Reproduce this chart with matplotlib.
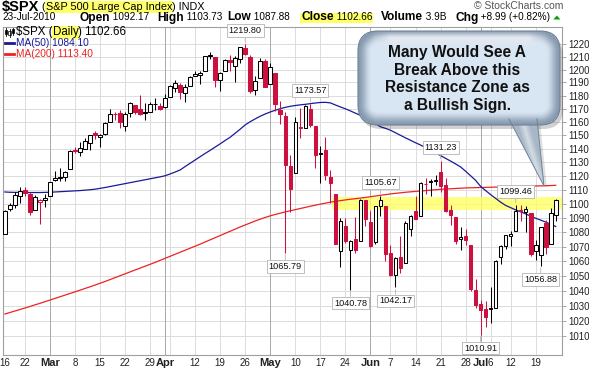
"""$SPX daily candles with MA(50)/MA(200) and a resistance-zone callout
"""
import numpy as np
import matplotlib.pyplot as plt
from matplotlib.patches import FancyBboxPatch, Polygon, Rectangle
from matplotlib.ticker import FixedLocator, FixedFormatter, NullLocator

plt.rcParams['font.family'] = ['Liberation Sans', 'DejaVu Sans']

# trading days (2010)
feb = [16, 17, 18, 19, 22, 23, 24, 25, 26]
mar = [1, 2, 3, 4, 5, 8, 9, 10, 11, 12, 15, 16, 17, 18, 19, 22, 23, 24, 25, 26, 29, 30, 31]
apr = [1, 5, 6, 7, 8, 9, 12, 13, 14, 15, 16, 19, 20, 21, 22, 23, 26, 27, 28, 29, 30]
may = [3, 4, 5, 6, 7, 10, 11, 12, 13, 14, 17, 18, 19, 20, 21, 24, 25, 26, 27, 28]
jun = [1, 2, 3, 4, 7, 8, 9, 10, 11, 14, 15, 16, 17, 18, 21, 22, 23, 24, 25, 28, 29, 30]
jul = [1, 2, 6, 7, 8, 9, 12, 13, 14, 15, 16, 19, 20, 21, 22, 23]
dates = ([(2, d) for d in feb] + [(3, d) for d in mar] + [(4, d) for d in apr] +
         [(5, d) for d in may] + [(6, d) for d in jun] + [(7, d) for d in jul])

opens = [1079.13, 1096.14, 1099.03, 1105.49, 1110.00, 1107.49, 1095.89, 1101.24, 1103.10,
         1105.36, 1117.01, 1119.36, 1119.12, 1125.12, 1138.40, 1137.56, 1140.22, 1143.96, 1151.71,
         1148.53, 1150.83, 1159.94, 1166.13, 1166.68, 1157.25, 1166.47, 1172.70, 1170.03, 1167.58,
         1167.71, 1173.75, 1171.75,
         1171.23, 1178.71, 1186.01, 1188.23, 1181.75, 1187.47, 1194.94, 1195.94, 1198.69, 1210.77,
         1210.17, 1192.06, 1199.04, 1207.16, 1202.52, 1207.87, 1217.07, 1209.92, 1184.59, 1193.30,
         1206.77,
         1188.58, 1197.50, 1169.24, 1164.38, 1127.04, 1122.27, 1156.39, 1155.43, 1170.04, 1157.19,
         1136.52, 1138.78, 1119.57, 1107.34, 1067.26, 1084.78, 1067.42, 1075.51, 1074.27, 1102.59,
         1087.30, 1073.01, 1098.82, 1098.43, 1065.84, 1050.81, 1062.75, 1058.77, 1082.65, 1095.00,
         1091.21, 1114.02, 1115.98, 1116.16, 1122.79, 1113.90, 1095.57, 1090.93, 1075.10, 1077.50,
         1071.10, 1040.56,
         1031.10, 1027.65, 1028.09, 1028.54, 1062.92, 1070.50, 1077.23, 1080.65, 1095.61, 1094.46,
         1093.85, 1066.85, 1064.53, 1086.67, 1072.14, 1092.17]
highs = [1095.67, 1101.03, 1108.24, 1112.42, 1112.29, 1108.58, 1106.42, 1103.50, 1107.24,
         1116.11, 1123.46, 1125.64, 1123.73, 1139.38, 1141.05, 1145.37, 1148.26, 1150.24, 1153.41,
         1150.98, 1160.28, 1169.84, 1167.77, 1169.20, 1167.82, 1174.72, 1173.04, 1180.69, 1173.93,
         1174.85, 1177.83, 1174.56,
         1181.43, 1187.73, 1191.80, 1189.60, 1188.55, 1194.66, 1199.20, 1199.04, 1210.65, 1213.92,
         1210.17, 1197.87, 1208.58, 1210.99, 1210.27, 1217.28, 1219.80, 1211.38, 1195.05, 1209.36,
         1207.99,
         1205.13, 1197.50, 1175.95, 1167.58, 1135.13, 1163.85, 1170.48, 1172.87, 1173.57, 1157.19,
         1141.88, 1148.66, 1124.27, 1107.34, 1090.16, 1089.95, 1074.75, 1090.75, 1103.52, 1102.59,
         1094.77, 1098.56, 1105.67, 1098.43, 1071.36, 1063.15, 1077.74, 1087.85, 1092.25, 1105.91,
         1115.59, 1118.74, 1117.72, 1121.01, 1131.23, 1118.50, 1099.64, 1090.93, 1083.56, 1082.60,
         1071.10, 1048.08,
         1033.58, 1032.95, 1042.50, 1060.89, 1071.25, 1078.16, 1080.78, 1099.46, 1099.08, 1098.66,
         1093.85, 1074.70, 1083.94, 1088.96, 1097.50, 1103.73]
lows = [1079.13, 1094.72, 1097.48, 1100.80, 1105.38, 1092.18, 1095.50, 1086.02, 1097.56,
        1105.36, 1116.51, 1116.58, 1116.66, 1125.12, 1136.77, 1134.90, 1140.09, 1138.99, 1146.97,
        1141.45, 1150.35, 1159.94, 1161.16, 1155.33, 1152.88, 1163.83, 1166.01, 1165.09, 1161.48,
        1167.71, 1168.92, 1169.15,
        1170.69, 1178.71, 1182.77, 1177.25, 1175.12, 1187.15, 1194.71, 1188.82, 1198.69, 1208.50,
        1186.77, 1183.68, 1199.04, 1198.85, 1190.19, 1205.10, 1211.07, 1181.62, 1180.04, 1193.30,
        1186.32,
        1188.58, 1168.12, 1158.15, 1065.79, 1094.15, 1122.27, 1147.71, 1155.43, 1156.14, 1126.14,
        1114.96, 1117.20, 1100.66, 1071.58, 1055.90, 1072.70, 1040.78, 1065.59, 1074.27, 1084.78,
        1069.89, 1072.03, 1091.81, 1060.50, 1049.86, 1042.17, 1052.25, 1058.77, 1077.12, 1089.03,
        1091.21, 1107.13, 1105.87, 1113.93, 1108.24, 1094.18, 1085.31, 1071.60, 1067.89, 1071.45,
        1039.63, 1028.33,
        1010.91, 1015.93, 1018.35, 1028.54, 1058.24, 1068.10, 1070.45, 1080.65, 1087.68, 1080.53,
        1063.32, 1061.11, 1056.88, 1065.25, 1072.14, 1087.88]
closes = [1094.87, 1099.51, 1106.75, 1109.17, 1108.01, 1094.60, 1105.24, 1102.94, 1104.49,
          1115.71, 1118.31, 1118.79, 1122.97, 1138.70, 1138.50, 1140.45, 1145.61, 1150.24, 1149.99,
          1150.51, 1159.46, 1166.21, 1165.83, 1159.90, 1165.81, 1174.17, 1167.72, 1165.73, 1166.59,
          1173.22, 1173.27, 1169.43,
          1178.10, 1187.44, 1189.44, 1182.45, 1186.44, 1194.37, 1196.48, 1197.30, 1210.65, 1211.67,
          1192.13, 1197.52, 1207.17, 1205.94, 1208.67, 1217.28, 1212.05, 1183.71, 1191.36, 1206.78,
          1186.69,
          1202.26, 1173.60, 1165.87, 1128.15, 1110.88, 1159.73, 1155.79, 1171.67, 1157.44, 1135.68,
          1136.94, 1120.80, 1115.05, 1071.59, 1087.69, 1073.65, 1074.03, 1067.95, 1103.06, 1089.41,
          1070.71, 1098.38, 1102.83, 1064.88, 1050.47, 1062.00, 1055.69, 1086.84, 1091.60, 1089.63,
          1115.23, 1114.61, 1116.04, 1117.51, 1113.20, 1095.31, 1092.04, 1073.69, 1076.76, 1074.57,
          1041.24, 1030.71,
          1027.37, 1022.58, 1028.06, 1060.27, 1070.25, 1077.96, 1078.75, 1095.34, 1095.17, 1096.48,
          1064.88, 1071.25, 1083.48, 1069.59, 1093.67, 1102.66]
prev_close = 1075.51  # Feb 12 close, colours the first candle

ma50 = [1108.6, 1108.4, 1108.3, 1108.3, 1108.3, 1108.2, 1108.2, 1108.2, 1108.3, 1108.4,
        1108.6, 1108.8, 1109.0, 1109.2, 1109.4, 1109.6, 1109.9, 1110.2, 1110.6, 1111.2,
        1111.8, 1112.5, 1113.2, 1113.9, 1114.6, 1115.3, 1116.0, 1116.7, 1117.4, 1118.1,
        1118.8, 1119.5, 1120.3, 1121.6, 1123.0, 1124.5, 1127.0, 1129.4, 1131.8, 1134.2,
        1136.6, 1138.9, 1141.3, 1143.7, 1146.2, 1148.6, 1151.6, 1154.6, 1157.8, 1160.2,
        1162.3, 1164.3, 1166.0, 1167.5, 1168.8, 1170.0, 1171.0, 1171.8, 1172.4, 1172.9,
        1173.3, 1173.8, 1174.3, 1174.7, 1174.8, 1174.4, 1172.8, 1171.3, 1169.9, 1168.3,
        1166.6, 1165.0, 1163.0, 1161.0, 1158.7, 1156.4, 1155.2, 1153.8, 1151.9, 1150.0,
        1148.1, 1146.3, 1144.5, 1142.8, 1140.9, 1139.0, 1137.2, 1135.0, 1133.0, 1131.0,
        1128.9, 1126.7, 1123.6, 1120.3, 1117.0, 1112.6, 1109.6, 1106.7, 1104.0, 1101.3,
        1099.0, 1097.4, 1095.8, 1094.4, 1093.0, 1091.4, 1089.9, 1088.6, 1087.2, 1085.7, 1084.1]
ma200 = [1024.4, 1025.4, 1026.4, 1027.4, 1028.4, 1029.4, 1030.5, 1031.5, 1032.6, 1033.7,
         1034.8, 1035.9, 1037.0, 1038.1, 1039.2, 1040.3, 1041.5, 1042.6, 1043.8, 1045.0,
         1046.2, 1047.5, 1048.8, 1050.1, 1051.4, 1052.7, 1054.0, 1055.3, 1056.6, 1057.9,
         1059.2, 1060.6, 1062.0, 1063.4, 1064.8, 1066.2, 1067.6, 1069.0, 1070.4, 1071.8,
         1073.3, 1074.8, 1076.3, 1077.8, 1079.3, 1080.8, 1082.3, 1083.8, 1085.2, 1086.6,
         1088.0, 1089.3, 1090.5, 1091.6, 1092.6, 1093.5, 1094.4, 1095.2, 1096.0, 1096.8,
         1097.6, 1098.4, 1099.2, 1099.9, 1100.6, 1101.3, 1101.9, 1102.4, 1102.9, 1103.4,
         1103.8, 1104.2, 1104.7, 1105.2, 1105.7, 1106.2, 1106.7, 1107.2, 1107.6, 1108.0,
         1108.4, 1108.7, 1109.0, 1109.3, 1109.6, 1109.9, 1110.2, 1110.5, 1110.7, 1110.9,
         1111.1, 1111.3, 1111.5, 1111.6, 1111.7, 1111.8, 1111.9, 1112.0, 1112.1, 1112.2,
         1112.3, 1112.4, 1112.5, 1112.6, 1112.7, 1112.8, 1112.9, 1113.0, 1113.1, 1113.2, 1113.4]

# x-axis labels at week / month starts (month, day, text)
week_labels = [(2, 16, '16'), (2, 22, '22'), (3, 1, 'Mar'), (3, 8, '8'), (3, 15, '15'),
               (3, 22, '22'), (3, 29, '29'), (4, 1, 'Apr'), (4, 12, '12'), (4, 19, '19'),
               (4, 26, '26'), (5, 3, 'May'), (5, 10, '10'), (5, 17, '17'), (5, 24, '24'),
               (6, 1, 'Jun'), (6, 7, '7'), (6, 14, '14'), (6, 21, '21'), (6, 28, '28'),
               (7, 1, 'Jul'), (7, 6, '6'), (7, 12, '12'), (7, 19, '19')]
month_starts = [(3, 1), (4, 1), (5, 3), (6, 1), (7, 1)]
extra_grid = [(4, 5)]
price_ticks = list(range(1010, 1230, 10))

# highs / lows that get a value tag: (month, day, 'H' or 'L')
tags = [(4, 26, 'H'), (5, 13, 'H'), (6, 3, 'H'), (6, 21, 'H'), (7, 13, 'H'),
        (5, 6, 'L'), (5, 25, 'L'), (6, 8, 'L'), (7, 1, 'L'), (7, 20, 'L')]
zone = (1095.6, 1105.2)
zone_start = (5, 20)
callout = 'Many Would See A\nBreak Above this\nResistance Zone as\na Bullish Sign.'

# ---------------------------------------------------------------
W, H = 589, 371
fig = plt.figure(figsize=(W / 100, H / 100), dpi=100)
ax = fig.add_axes([2.7 / W, 16 / H, (562 - 2.7) / W, (355 - 27) / H])
pos = {md: i for i, md in enumerate(dates)}
n = len(closes)
red = '#CC1040'

ax.set_yscale('log')
ax.set_ylim(997.6, 1233.5)
ax.set_xlim(-0.43, 111.25)

# grid
for p in price_ticks:
    ax.axhline(p, color='#dcdcdc', lw=0.7, zorder=0)
for m, d, _ in week_labels[1:]:
    ax.axvline(pos[(m, d)], color='#dcdcdc', lw=0.7, zorder=0)
for md in extra_grid:
    ax.axvline(pos[md], color='#dcdcdc', lw=0.7, zorder=0)
for md in month_starts:
    ax.axvline(pos[md], color='#a8a8a8', lw=0.7, zorder=0.5)

# resistance zone
z0 = pos[zone_start] - 0.6
ax.add_patch(Rectangle((z0, zone[0]), 112 - z0, zone[1] - zone[0],
                       fc='#ffff66', ec='none', alpha=0.8, zorder=1))

# moving averages
ax.plot(range(n), ma200, color='#ee2222', lw=0.9, zorder=2)
ax.plot(range(n), ma50, color='#1a1a99', lw=0.9, zorder=2)

# candles
prev = [prev_close] + closes[:-1]
for i in range(n):
    o, h, l, c = opens[i], highs[i], lows[i], closes[i]
    col = 'black' if c >= prev[i] else red
    ax.vlines(i, l, h, color=col, lw=0.75, zorder=3)
    lo, hi = min(o, c), max(o, c)
    if hi - lo < 0.4:
        hi = lo + 0.4
    ax.add_patch(Rectangle((i - 0.36, lo), 0.72, hi - lo,
                           fc='white' if c >= o else col, ec=col, lw=0.75, zorder=4))

# value tags
for m, d, kind in tags:
    i = pos[(m, d)]
    val = highs[i] if kind == 'H' else lows[i]
    off = 9 if kind == 'H' else -9
    ax.annotate('%.2f' % val, xy=(i, val), xytext=(0, off), textcoords='offset pixels',
                ha='center', va='bottom' if kind == 'H' else 'top', fontsize=6.6,
                color='#111111', zorder=6,
                bbox=dict(boxstyle='square,pad=0.2', fc='white', ec='#b4b4b4', lw=0.6),
                arrowprops=dict(arrowstyle='-', color='#b4b4b4', lw=0.6, shrinkA=0, shrinkB=1.5))

# axes styling
for s in ax.spines.values():
    s.set_color('#a0a0a0')
    s.set_linewidth(0.8)
ax.yaxis.tick_right()
ax.yaxis.set_major_locator(FixedLocator(price_ticks))
ax.yaxis.set_major_formatter(FixedFormatter([str(p) for p in price_ticks]))
ax.yaxis.set_minor_locator(NullLocator())
ax.tick_params(axis='y', direction='out', length=3, width=0.6, color='#999999',
               pad=1.5, labelsize=7, labelcolor='#222222')
ax.set_xticks([pos[(m, d)] for m, d, _ in week_labels])
ax.set_xticklabels([t for _, _, t in week_labels])
ax.tick_params(axis='x', length=0, pad=2.5, labelsize=7, labelcolor='#222222')
for lab in ax.get_xticklabels():
    if lab.get_text().isalpha():
        lab.set_fontweight('bold')
        lab.set_fontsize(8)

# ---------------------------------------------------------------
# overlay in pixel coordinates: header, legend and callout
ov = fig.add_axes([0, 0, 1, 1], zorder=5)
ov.set_xlim(0, W)
ov.set_ylim(H, 0)
ov.axis('off')
r = fig.canvas.get_renderer()


def chain(x, y, parts):
    for s, kw in parts:
        t = ov.text(x, y, s, va='center', ha='left', **kw)
        x = t.get_window_extent(r).x1
    return x


hl = dict(boxstyle='square,pad=0.08', fc='#ffff66', ec='none')
chain(1.5, 7, [('$SPX', dict(fontsize=10.5, fontweight='bold')),
               (' (', dict(fontsize=7.8)),
               ('S&P 500 Large Cap Index', dict(fontsize=7.8, bbox=hl)),
               (') INDX', dict(fontsize=7.8))])
ov.text(563, 6, '\u00a9 StockCharts.com', ha='right', va='center', fontsize=7.5, color='#555555')

chain(2, 17.5, [('23-Jul-2010', dict(fontsize=7.2))])
chain(80, 17.5, [('Open', dict(fontsize=8.6, fontweight='bold')), (' 1092.17', dict(fontsize=7.2))])
chain(157, 17.5, [('High', dict(fontsize=8.6, fontweight='bold')), (' 1103.73', dict(fontsize=7.2))])
chain(227, 17.5, [('Low', dict(fontsize=8.6, fontweight='bold')), (' 1087.88', dict(fontsize=7.2))])
xe = chain(301, 17.5, [('Close', dict(fontsize=8.6, fontweight='bold')), (' 1102.66', dict(fontsize=7.2))])
ov.add_patch(Rectangle((299.5, 12.5), xe - 298.5, 10, fc='#ffff66', ec='none', zorder=0.5))
chain(381, 17.5, [('Volume', dict(fontsize=8.6, fontweight='bold')), (' 3.9B', dict(fontsize=7.2))])
xe = chain(455, 17.5, [('Chg', dict(fontsize=8.6, fontweight='bold')),
                       (' +8.99 (+0.82%)', dict(fontsize=7.2))])
ov.add_patch(Polygon([(xe + 3, 19.5), (xe + 10, 19.5), (xe + 6.5, 15.5)], fc='#00a000', ec='none'))

# legend inside the plot
for xx, b0, b1, w0, w1, hol in [(6, 30, 34, 28, 36, False), (9.5, 31, 35, 29, 36.5, True),
                                (13, 29, 33, 28, 35, False)]:
    ov.plot([xx, xx], [w0, w1], color='black', lw=0.6)
    ov.add_patch(Rectangle((xx - 1.2, b0), 2.4, b1 - b0, fc='white' if hol else 'black',
                           ec='black', lw=0.5))
chain(16, 32.5, [('$SPX (', dict(fontsize=8.3)), ('Daily', dict(fontsize=8.3, bbox=hl)),
                 (') 1102.66', dict(fontsize=8.3))])
ov.plot([5, 14], [43.3, 43.3], color='#1a1a99', lw=2)
ov.text(16, 43.3, 'MA(50) 1084.10', va='center', fontsize=7.3, color='#1a1a99')
ov.plot([5, 14], [54, 54], color='#ee2222', lw=2)
ov.text(16, 54, 'MA(200) 1113.40', va='center', fontsize=7.3, color='#ee2222')

# callout bubble
bx0, by0, bx1, by1, rr = 358, 31, 560, 125, 20
tail = [(509, 119), (537, 119), (544, 186)]
style = 'round,pad=0,rounding_size=%d' % rr
ov.add_patch(FancyBboxPatch((bx0 + 3, by0 + 4), bx1 - bx0, by1 - by0, boxstyle=style,
                            fc='black', ec='none', alpha=0.18, zorder=1))
ov.add_patch(Polygon([(x + 3, y + 2) for x, y in tail], fc='black', ec='none', alpha=0.12, zorder=1))

gx, gy = np.meshgrid(np.arange(350, 571) + 0.5, np.arange(25, 196) + 0.5)
cx, cy, hx, hy = (bx0 + bx1) / 2, (by0 + by1) / 2, (bx1 - bx0) / 2, (by1 - by0) / 2
qx, qy = np.abs(gx - cx) - (hx - rr), np.abs(gy - cy) - (hy - rr)
dist = np.hypot(np.maximum(qx, 0), np.maximum(qy, 0)) + np.minimum(np.maximum(qx, qy), 0) - rr
s = np.clip(-dist / 14, 0, 1)
s = s * s * (3 - 2 * s)
rim = np.array([0x86, 0x99, 0xaf]) / 255
inner = np.array([0xd8, 0xe5, 0xf2]) / 255
img = rim + (inner - rim) * s[..., None]
gloss = (np.exp(-((gy - (by0 + 7)) / 5) ** 2) * np.clip((gx - bx0 - 12) / 20, 0, 1)
         * np.clip((bx1 - 12 - gx) / 20, 0, 1))
img = img + (1 - img) * 0.65 * gloss[..., None]
tail_col = np.array([0xa8, 0xb7, 0xc7]) / 255
tail_gloss = np.clip(1 - np.abs(gx - (522 + (gy - 119) * 0.3)) / 6, 0, 1)
img = np.where((dist > 0)[..., None],
               tail_col + (1 - tail_col) * 0.5 * tail_gloss[..., None], img)

body = FancyBboxPatch((bx0, by0), bx1 - bx0, by1 - by0, boxstyle=style, fc='none',
                      ec='#6f8299', lw=0.8, zorder=3)
tailp = Polygon(tail, fc='none', ec='none', zorder=3)
ov.add_patch(body)
ov.add_patch(tailp)
for clip in (body, tailp):
    im = ov.imshow(img, extent=(350, 571, 196, 25), origin='upper', aspect='auto',
                   interpolation='bilinear', zorder=2)
    im.set_clip_path(clip)
ov.plot([tail[0][0], tail[2][0], tail[1][0]], [tail[0][1], tail[2][1], tail[1][1]],
        color='#6f8299', lw=0.7, zorder=3)
ov.set_xlim(0, W)
ov.set_ylim(H, 0)
ov.text(457, 79, callout, ha='center', va='center', fontsize=11.2, fontweight='bold',
        color='#111111', linespacing=1.22, zorder=4)

fig.savefig('out.png', dpi=100)
